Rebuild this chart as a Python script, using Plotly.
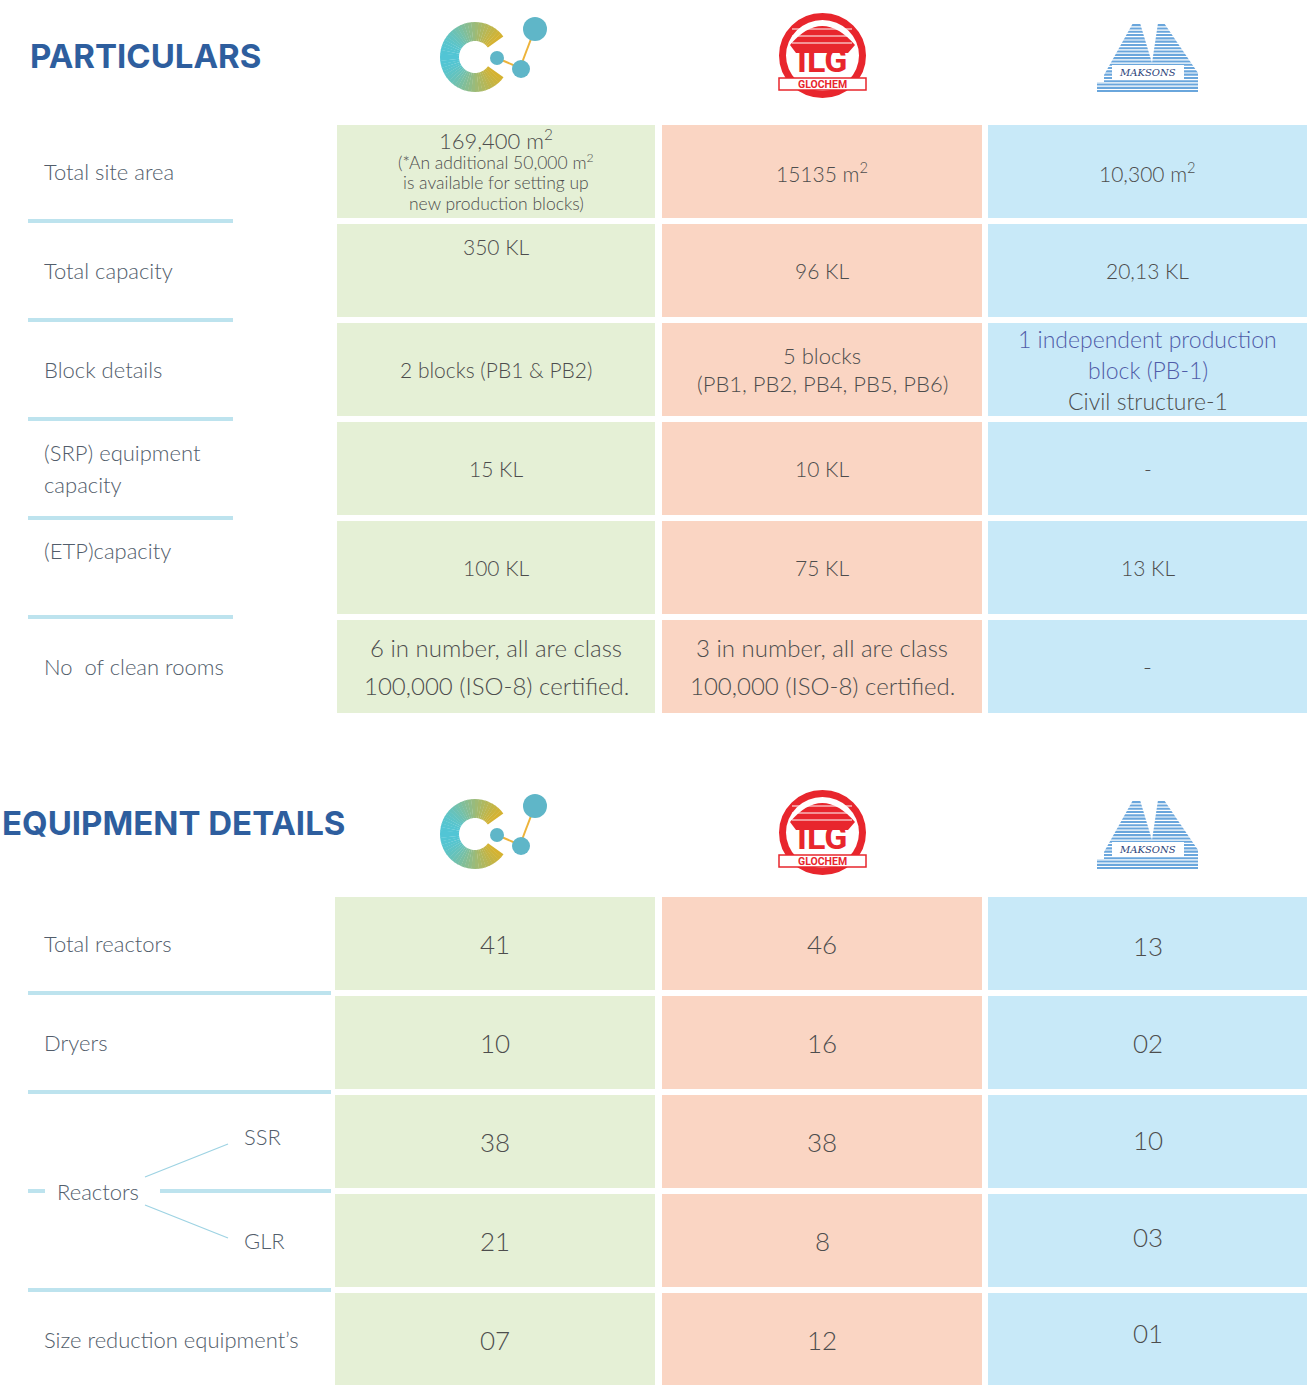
import math
import plotly.graph_objects as go

W, H = 1307, 1385

# ---- data ----
particulars = ["Total site area", "Total capacity", "Block details",
               "(SRP) equipment<br>capacity", "(ETP)capacity", "No  of clean rooms"]
part_c = [["169,400 m<sup>2</sup>", "(*An additional 50,000 m<sup>2</sup>",
           "is available for setting up", "new production blocks)"],
          ["350 KL"], ["2 blocks (PB1 & PB2)"], ["15 KL"], ["100 KL"],
          ["6 in number, all are class", "100,000 (ISO-8) certified."]]
part_g = [["15135 m<sup>2</sup>"], ["96 KL"], ["5 blocks", "(PB1, PB2, PB4, PB5, PB6)"],
          ["10 KL"], ["75 KL"],
          ["3 in number, all are class", "100,000 (ISO-8) certified."]]
part_m = [["10,300 m<sup>2</sup>"], ["20,13 KL"],
          ["1 independent production", "block (PB-1)", "Civil structure-1"],
          ["-"], ["13 KL"], ["-"]]

equipment = ["Total reactors", "Dryers", "SSR", "GLR", "Size reduction equipment’s"]
equip_c = ["41", "10", "38", "21", "07"]
equip_g = ["46", "16", "38", "8", "12"]
equip_m = ["13", "02", "10", "03", "01"]

col_fill = ["#E5F0D6", "#FAD5C3", "#C8E9F8"]
TXT = "#4d4d4d"
LBL = "#525d6b"
LINE = "#BDE3EE"
TITLE = "#2E5E9E"
FONT = "Lato"

fig = go.Figure()
shapes = []
ann = []


def text(x, y, s, size, color=TXT, anchor="center", weight=300, family=FONT):
    ann.append(dict(x=x, y=y, xref="x", yref="y", text=s, showarrow=False,
                    xanchor=anchor, yanchor="middle",
                    font=dict(family=family, size=size, color=color, weight=weight)))


def lines_at(x, yc, lines, size, gap, colors=None):
    n = len(lines)
    for i, s in enumerate(lines):
        c = colors[i] if colors else TXT
        text(x, yc + (i - (n - 1) / 2) * gap, s, size, c)


def hline(x0, x1, y, w=4, color=LINE):
    shapes.append(dict(type="line", xref="x", yref="y", x0=x0, x1=x1, y0=y, y1=y,
                       line=dict(color=color, width=w)))


def poly(pts, fill):
    path = "M " + " L ".join(f"{px:.1f},{py:.1f}" for px, py in pts) + " Z"
    shapes.append(dict(type="path", xref="x", yref="y", path=path,
                       fillcolor=fill, line=dict(width=0)))


def logos(yc):
    # gradient "C" ring
    cx, cy, ro, ri = 475, yc + 2, 35, 16
    n = 48
    a0, a1 = math.radians(36), math.radians(324)
    for k in range(n):
        t0 = a0 + (a1 - a0) * k / n
        t1 = a0 + (a1 - a0) * (k + 1) / n + 0.01
        xm = (math.cos((t0 + t1) / 2) + 1) / 2  # 0 left .. 1 right
        r = int(0x52 + (0xE6 - 0x52) * xm)
        g = int(0xC6 + (0xB0 - 0xC6) * xm)
        b = int(0xD6 + (0x1C - 0xD6) * xm)
        poly([(cx + ro * math.cos(t0), cy - ro * math.sin(t0)),
              (cx + ro * math.cos(t1), cy - ro * math.sin(t1)),
              (cx + ri * math.cos(t1), cy - ri * math.sin(t1)),
              (cx + ri * math.cos(t0), cy - ri * math.sin(t0))], f"rgb({r},{g},{b})")
    for (x0, y0), (x1, y1) in [((497, yc + 3), (520, yc + 13)), ((520, yc + 13), (534, yc - 24))]:
        shapes.append(dict(type="line", xref="x", yref="y", x0=x0, y0=y0, x1=x1, y1=y1,
                           line=dict(color="#EDB33A", width=2)))
    for x, y, r in [(535, yc - 26, 12), (497, yc + 3, 7), (521, yc + 14, 9)]:
        shapes.append(dict(type="circle", xref="x", yref="y", x0=x - r, x1=x + r,
                           y0=y - r, y1=y + r, fillcolor="#5FB6C8", line=dict(width=0)))
    # glochem
    shapes.append(dict(type="circle", xref="x", yref="y", x0=780, x1=865, y0=yc - 41,
                       y1=yc + 42, fillcolor="#E8262D", line=dict(color="#E8262D", width=2)))
    shapes.append(dict(type="circle", xref="x", yref="y", x0=786, x1=859, y0=yc - 35,
                       y1=yc + 36, fillcolor="white", line=dict(width=0)))
    shapes.append(dict(type="path", xref="x", yref="y",
                       path=f"M 790,{yc-10} Q 822,{yc-48} 855,{yc-10} L 848,{yc-2} L 796,{yc-2} Z",
                       fillcolor="#E8262D", line=dict(width=0)))
    for k in range(3):
        hline(792, 852, yc - 26 + 7 * k, w=1, color="white")
    text(822, yc + 5, "ILG", 34, "#E8262D", weight="bold", family="Roboto")
    shapes.append(dict(type="rect", xref="x", yref="y", x0=779, x1=866, y0=yc + 23,
                       y1=yc + 35, fillcolor="white", line=dict(color="#E8262D", width=1.5)))
    text(822, yc + 29, "GLOCHEM", 10.5, "#E8262D", weight="bold", family="Roboto")
    # maksons
    poly([(1104, yc + 20), (1133, yc - 32), (1140, yc - 32), (1152, yc + 8), (1158, yc - 32),
          (1164, yc - 32), (1198, yc + 18), (1198, yc + 27), (1104, yc + 27)], "#6AA6DC")
    poly([(1097, yc + 27), (1198, yc + 27), (1198, yc + 37), (1097, yc + 37)], "#6AA6DC")
    for k in range(22):
        hline(1092, 1203, yc - 33 + 1.5 + k * 3.3, w=1.2, color="white")
    shapes.append(dict(type="rect", xref="x", yref="y", x0=1112, x1=1184, y0=yc + 10,
                       y1=yc + 25, fillcolor="white", line=dict(width=0)))
    text(1147, yc + 17, "<i>MAKSONS</i>", 10, "#2B3F7A", weight="normal", family="DejaVu Serif")


# ---- section 1: particulars ----
text(28, 56, "PARTICULARS", 33, TITLE, anchor="left", weight="bold", family="Inter")
logos(55)

cols1 = [(337, 655), (662, 982), (988, 1307)]
row_top1, pitch, rh = 125, 99, 93
mids = [(x0 + x1) / 2 for x0, x1 in cols1]
for i, label in enumerate(particulars):
    y0 = row_top1 + i * pitch
    for j, (x0, x1) in enumerate(cols1):
        shapes.append(dict(type="rect", xref="x", yref="y", x0=x0, x1=x1, y0=y0, y1=y0 + rh,
                           fillcolor=col_fill[j], line=dict(width=0), layer="below"))
    if i < len(particulars) - 1:
        hline(28, 233, y0 + rh + 3)
    ly = y0 + rh / 2
    if i == 4:
        ly = y0 + 29
    if "<br>" in label:
        for k, s in enumerate(label.split("<br>")):
            text(42, ly - 16 + 32 * k, s, 22, LBL, anchor="left")
    else:
        text(42, ly, label, 22, LBL, anchor="left")

    yc = y0 + rh / 2
    for j, vals in enumerate([part_c, part_g, part_m]):
        cell = vals[i]
        if i == 0 and j == 0:
            text(mids[j], y0 + 14, cell[0], 22)
            for k, s in enumerate(cell[1:]):
                text(mids[j], y0 + 36 + 21 * k, s, 17.5)
        elif i == 1 and j == 0:
            text(mids[j], y0 + 22, cell[0], 21)
        elif i == 2 and j == 2:
            lines_at(mids[j], yc, cell, 23, 31, colors=["#4F5CA8", "#4F5CA8", TXT])
        elif i == 2 and j == 1:
            lines_at(mids[j], yc, cell, 22, 28)
        elif i == 5:
            lines_at(mids[j], yc, cell, 24, 38)
        else:
            lines_at(mids[j], yc, cell, 21, 28)

# ---- section 2: equipment ----
text(0, 823, "EQUIPMENT DETAILS", 33, TITLE, anchor="left", weight="bold", family="Inter")
logos(832)

cols2 = [(335, 655), (662, 982), (988, 1307)]
row_top2 = 897
nudge_m = [2, 0, -2, -4, -7]  # last column sits a little off-centre in places
for i, label in enumerate(equipment):
    y0 = row_top2 + i * 99
    yc = y0 + rh / 2
    for j, (x0, x1) in enumerate(cols2):
        shapes.append(dict(type="rect", xref="x", yref="y", x0=x0, x1=x1, y0=y0, y1=y0 + rh,
                           fillcolor=col_fill[j], line=dict(width=0), layer="below"))
    for j, vals in enumerate([equip_c, equip_g, equip_m]):
        dy = nudge_m[i] if j == 2 else 0
        text((cols2[j][0] + cols2[j][1]) / 2, yc + dy, vals[i], 26)
    if label in ("SSR", "GLR"):
        text(242, yc - 5 if label == "SSR" else yc, label, 22, LBL, anchor="left")
    else:
        text(42, yc, label, 22, LBL, anchor="left")
    if i == 2:
        # reactor split
        yr = y0 + rh + 3
        hline(28, 45, yr)
        hline(160, 331, yr)
        text(55, yr, "Reactors", 22, LBL, anchor="left")
        for ya, yb in [(yr - 14, yr - 47), (yr + 14, yr + 47)]:
            shapes.append(dict(type="line", xref="x", yref="y", x0=145, x1=228, y0=ya, y1=yb,
                               line=dict(color="#9ED3E3", width=1.3)))
    elif i < len(equipment) - 1:
        hline(28, 331, y0 + rh + 3)

fig.update_layout(
    width=W, height=H,
    margin=dict(l=0, r=0, t=0, b=0),
    paper_bgcolor="white", plot_bgcolor="white",
    xaxis=dict(range=[0, W], visible=False, fixedrange=True),
    yaxis=dict(range=[H, 0], visible=False, fixedrange=True),
    shapes=shapes, annotations=ann, showlegend=False,
)
# drop the default 8px page margin so the figure fills the window
fig.write_html("out.html", config={"displayModeBar": False},
               post_script="document.body.style.margin='0';document.body.style.overflow='hidden';")
